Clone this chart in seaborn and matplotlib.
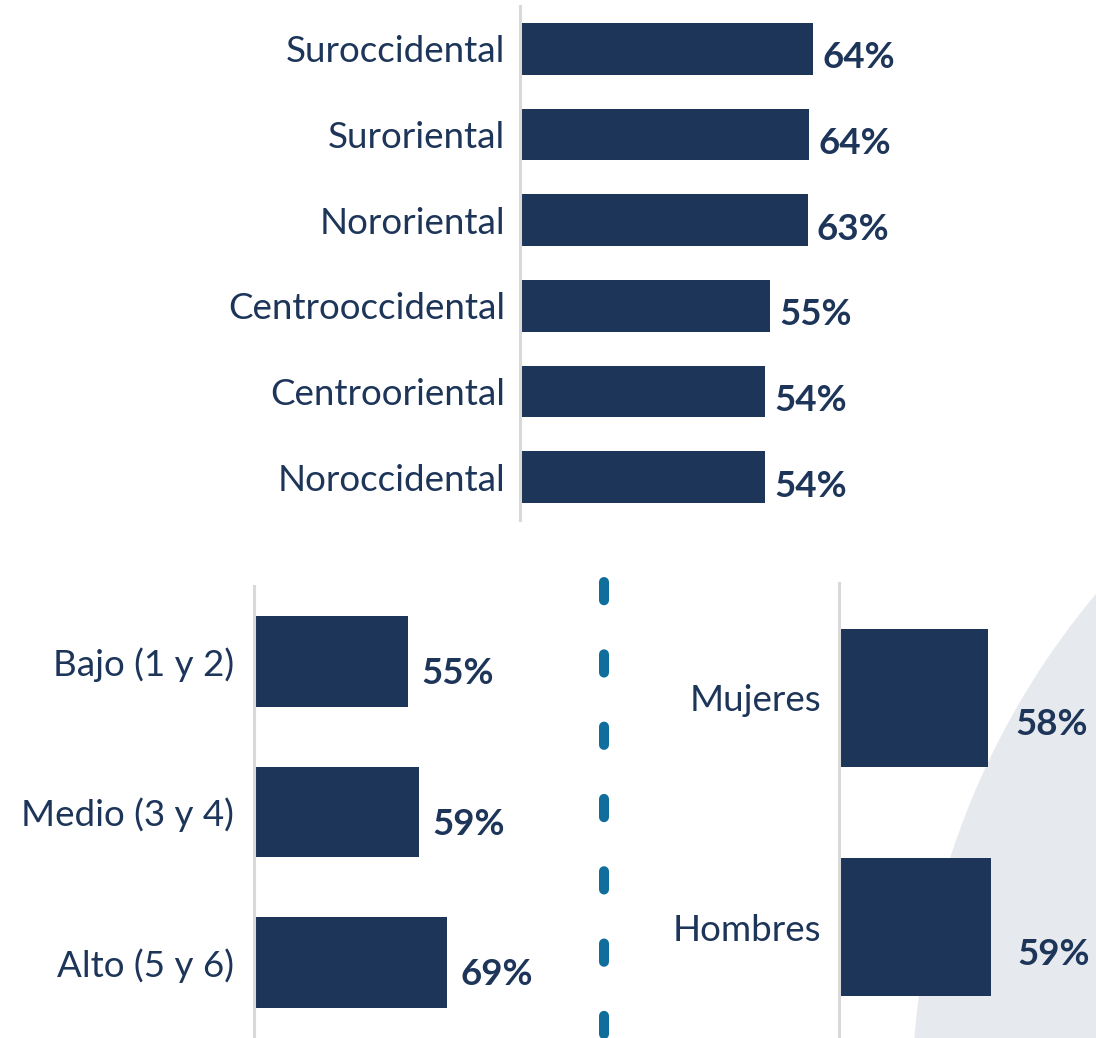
import matplotlib
matplotlib.use("Agg")
import matplotlib.pyplot as plt
import seaborn as sns
import pandas as pd
from matplotlib.patches import Circle
from matplotlib.lines import Line2D

# ---------------- data ----------------
regions = ["Suroccidental", "Suroriental", "Nororiental",
           "Centrooccidental", "Centrooriental", "Noroccidental"]
region_values = [64.4, 63.6, 63.2, 54.9, 53.8, 53.8]

strata = ["Bajo (1 y 2)", "Medio (3 y 4)", "Alto (5 y 6)"]
strata_values = [55, 59, 69]

sexes = ["Mujeres", "Hombres"]
sex_values = [58, 59]

# ---------------- style ----------------
NAVY = "#1d3559"
TEAL = "#0f6e9b"
GREY_BG = "#e6e9ed"
SPINE = "#d9d9d9"
W, H = 1096, 1038

sns.set_theme(style="white")
plt.rcParams['font.family'] = ['Lato', 'DejaVu Sans']

fig = plt.figure(figsize=(W / 100, H / 100), dpi=100, facecolor="white")


def px_axes(x0, y0, x1, y1):
    return fig.add_axes([x0 / W, 1 - y1 / H, (x1 - x0) / W, (y1 - y0) / H])


# decorative background arc
bg = px_axes(0, 0, W, H)
bg.set_xlim(0, W)
bg.set_ylim(H, 0)
bg.axis("off")
bg.set_zorder(-1)
bg.add_patch(Circle((1700, 1100), 788, color=GREY_BG, lw=0))


def panel(rect, cats, vals, scale, gap_px, dy_px, pad_px, fs=26.5):
    x0, y0, x1, y1 = rect
    ax = px_axes(*rect)
    df = pd.DataFrame({"cat": cats, "val": vals})
    sns.barplot(data=df, x="val", y="cat", orient="h", color=NAVY,
                saturation=1, width=0.6, linewidth=0, ax=ax)
    ax.set_xlim(0, (x1 - x0) / scale)
    ax.set_ylim(len(cats) - 0.5, -0.5)
    ax.set_xlabel("")
    ax.set_ylabel("")
    ax.set_xticks([])
    ax.patch.set_alpha(0)
    for s in ["top", "right", "bottom"]:
        ax.spines[s].set_visible(False)
    ax.spines["left"].set_color(SPINE)
    ax.spines["left"].set_linewidth(2.2)
    ax.spines["left"].set_position(("outward", 1.5))
    ax.tick_params(axis="y", length=0, pad=pad_px * 0.72,
                   labelsize=fs, labelcolor=NAVY)
    for i, v in enumerate(vals):
        ax.annotate(f"{v:.0f}%", xy=(v, i),
                    xytext=(gap_px * 0.72, -dy_px * 0.72),
                    textcoords="offset points", ha="left",
                    va="center_baseline", fontsize=fs,
                    fontweight="bold", color=NAVY)
    return ax


panel((522, 6, 1096, 520), regions, region_values, 4.52, 9, 6, 15)
panel((256, 586, 590, 1038), strata, strata_values, 2.77, 13, 9.3, 20)
panel((841, 583, 1096, 1042), sexes, sex_values, 2.54, 27, 24, 18)

# dashed divider
fig.add_artist(Line2D([604.3 / W, 604.3 / W], [1 - 581.7 / H, 0],
                      transform=fig.transFigure, color=TEAL, lw=7.2,
                      dash_capstyle="round", dashes=(1.83, 5.4)))

fig.savefig("out.png", dpi=100, facecolor="white")
